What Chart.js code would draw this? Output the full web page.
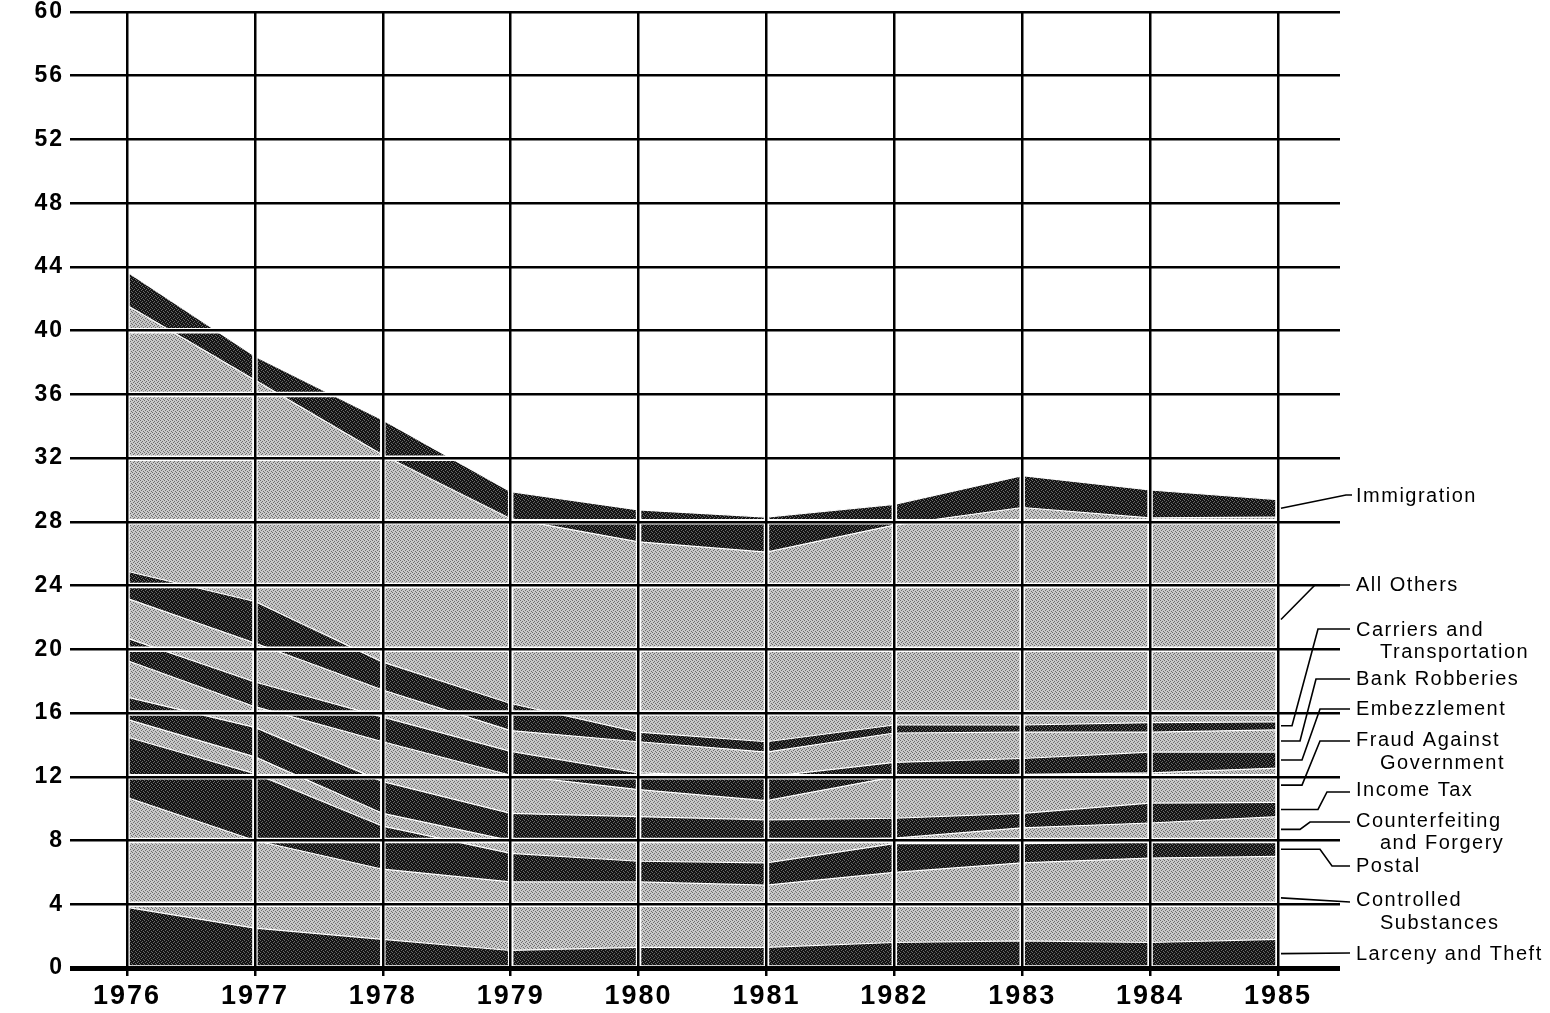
<!DOCTYPE html>
<html>
<head>
<meta charset="utf-8">
<script src="https://cdn.jsdelivr.net/npm/chart.js@4.4.0/dist/chart.umd.min.js"></script>
<style>
html, body { margin: 0; background: #fff; }
#wrap { width: 1550px; height: 1013px; }
</style>
</head>
<body>
<div id="wrap"><canvas id="chart"></canvas></div>
<script>
// stacked layers, bottom to top
const years = [1976, 1977, 1978, 1979, 1980, 1981, 1982, 1983, 1984, 1985]
const larceny        = [3.8, 2.5, 1.8, 1.1, 1.3, 1.3, 1.6, 1.7, 1.6, 1.8]
const controlled     = [6.9, 5.5, 4.4, 4.3, 4.1, 3.9, 4.4, 4.9, 5.3, 5.2]
const postal         = [3.8, 4.2, 2.7, 1.8, 1.3, 1.4, 1.8, 1.2, 1.0, 0.9]
const counterfeiting = [1.1, 1.05, 0.8, 0.8, 1.3, 1.4, 0.35, 1.0, 1.2, 1.6]
const incomeTax      = [1.4, 1.85, 2.0, 1.7, 1.5, 1.3, 1.25, 0.9, 1.25, 0.9]
const fraud          = [2.3, 1.3, 2.5, 2.4, 1.7, 1.2, 2.6, 2.45, 1.9, 2.15]
const embezzlement   = [1.4, 1.55, 1.55, 1.5, 1.05, 1.5, 0.9, 1.0, 1.3, 1.0]
const bankRobberies  = [2.5, 2.45, 1.7, 1.3, 1.95, 1.55, 1.85, 1.65, 1.25, 1.4]
const carriers       = [1.7, 2.6, 1.75, 1.7, 0.6, 0.65, 0.5, 0.45, 0.6, 0.5]
const allOthers      = [16.7, 13.9, 13.0, 11.6, 11.95, 11.9, 12.55, 13.65, 12.85, 12.85]
const immigration    = [2.1, 1.5, 2.2, 1.7, 2.0, 2.2, 1.3, 2.0, 1.75, 1.1]

const yTicks = { min: 0, max: 60, step: 4 }

function makePattern(base, speck) {
    let c = document.createElement('canvas')
    c.width = 4
    c.height = 4
    let g = c.getContext('2d')
    g.fillStyle = base
    g.fillRect(0, 0, 4, 4)
    g.fillStyle = speck
    g.fillRect(0, 0, 1, 1)
    g.fillRect(2, 1, 1, 1)
    g.fillRect(1, 2, 1, 1)
    g.fillRect(3, 3, 1, 1)
    return g.createPattern(c, 'repeat')
}
const darkFill = makePattern('#141414', '#6a6a6a')
const lightFill = makePattern('#c8c8c8', '#6c6c6c')

// name, values, shade, label text lines, label layout (text y, bend points)
const layers = [
    { name: 'Larceny and Theft', values: larceny, dark: true,
      text: ['Larceny and Theft'], ty: [954], bends: [[1350, 953]] },
    { name: 'Controlled Substances', values: controlled, dark: false,
      text: ['Controlled', 'Substances'], ty: [900, 923], bends: [[1350, 902]] },
    { name: 'Postal', values: postal, dark: true,
      text: ['Postal'], ty: [866], bends: [[1320, null], [1332, 866], [1350, 866]] },
    { name: 'Counterfeiting and Forgery', values: counterfeiting, dark: false,
      text: ['Counterfeiting', 'and Forgery'], ty: [821, 843], bends: [[1300, null], [1310, 822], [1350, 822]] },
    { name: 'Income Tax', values: incomeTax, dark: true,
      text: ['Income Tax'], ty: [790], bends: [[1318, null], [1327, 792], [1350, 792]] },
    { name: 'Fraud Against Government', values: fraud, dark: false,
      text: ['Fraud Against', 'Government'], ty: [740, 763], bends: [[1302, null], [1320, 741], [1350, 741]] },
    { name: 'Embezzlement', values: embezzlement, dark: true,
      text: ['Embezzlement'], ty: [709], bends: [[1302, null], [1320, 709], [1350, 709]] },
    { name: 'Bank Robberies', values: bankRobberies, dark: false,
      text: ['Bank Robberies'], ty: [679], bends: [[1300, null], [1316, 679], [1350, 679]] },
    { name: 'Carriers and Transportation', values: carriers, dark: true,
      text: ['Carriers and', 'Transportation'], ty: [630, 652], bends: [[1292, null], [1318, 629], [1350, 629]] },
    { name: 'All Others', values: allOthers, dark: false,
      text: ['All Others'], ty: [585], bends: [[1315, 585], [1350, 585]] },
    { name: 'Immigration', values: immigration, dark: true,
      text: ['Immigration'], ty: [496], bends: [[1346, 495], [1352, 495]] }
]

const datasets = layers.map((l, i) => ({
    label: l.name,
    data: years.map((yr, j) => ({ x: yr, y: l.values[j] })),
    backgroundColor: l.dark ? darkFill : lightFill,
    borderColor: '#ffffff',
    borderWidth: 1.2,
    pointRadius: 0,
    tension: 0,
    fill: i === 0 ? 'origin' : '-1'
}))

// white margin round the grid lines, drawn over the bands
const gridHalo = {
    id: 'gridHalo',
    afterDatasetsDraw(chart) {
        let { ctx, chartArea: a, scales: { x, y } } = chart
        ctx.save()
        ctx.strokeStyle = '#ffffff'
        ctx.lineWidth = 5.5
        ctx.beginPath()
        y.ticks.forEach(t => {
            let py = y.getPixelForValue(t.value)
            ctx.moveTo(a.left, py)
            ctx.lineTo(a.right, py)
        })
        x.ticks.forEach(t => {
            let px = x.getPixelForValue(t.value)
            ctx.moveTo(px, a.top)
            ctx.lineTo(px, a.bottom)
        })
        ctx.stroke()
        ctx.restore()
    }
}

const spacing = {
    id: 'spacing',
    beforeDraw(chart) {
        chart.ctx.letterSpacing = '2px'
    }
}

// labels on the right with leader lines to the 1985 column
const sideLabels = {
    id: 'sideLabels',
    afterDraw(chart) {
        let { ctx, scales: { x, y } } = chart
        let last = years.length - 1
        let px = x.getPixelForValue(years[last]) + 3
        ctx.save()
        ctx.letterSpacing = '1.5px'
        ctx.strokeStyle = '#000'
        ctx.lineWidth = 1.6
        ctx.fillStyle = '#000'
        ctx.font = '20px "Liberation Sans", Arial, sans-serif'
        ctx.textBaseline = 'middle'
        let base = 0
        layers.forEach(l => {
            let top = base + l.values[last]
            let ay = y.getPixelForValue((base + top) / 2)
            base = top
            ctx.beginPath()
            ctx.moveTo(px, ay)
            l.bends.forEach(b => ctx.lineTo(b[0], b[1] === null ? ay : b[1]))
            ctx.stroke()
            l.text.forEach((t, k) => ctx.fillText(t, k === 0 ? 1356 : 1380, l.ty[k]))
        })
        ctx.restore()
    }
}

new Chart(document.getElementById('chart'), {
    type: 'line',
    data: { datasets: datasets },
    options: {
        responsive: true,
        maintainAspectRatio: false,
        animation: false,
        layout: { padding: { top: 0, right: 210, left: 0, bottom: 0 } },
        plugins: { legend: { display: false }, tooltip: { enabled: false } },
        scales: {
            x: {
                type: 'linear',
                min: 1975.554,
                max: 1985.485,
                z: 1,
                afterFit: s => { s.height = 45 },
                ticks: {
                    stepSize: 1,
                    includeBounds: false,
                    color: '#000',
                    padding: 4,
                    font: { family: '"Liberation Sans", Arial, sans-serif', size: 27, weight: 'bold' },
                    callback: v => String(v)
                },
                grid: { color: '#000', lineWidth: 2.5, tickLength: 8, z: 1 },
                border: { display: false }
            },
            y: {
                stacked: true,
                min: yTicks.min,
                max: yTicks.max,
                z: 1,
                afterFit: s => { s.width = 70; s.paddingTop = 12; s.paddingBottom = 0 },
                ticks: {
                    stepSize: yTicks.step,
                    color: '#000',
                    padding: 6,
                    font: { family: '"Liberation Sans", Arial, sans-serif', size: 23, weight: 'bold' }
                },
                grid: {
                    color: '#000',
                    lineWidth: c => c.tick && c.tick.value === 0 ? 5 : 2.5,
                    drawTicks: false,
                    z: 1
                },
                border: { display: false }
            }
        }
    },
    plugins: [gridHalo, spacing, sideLabels]
})
</script>
</body>
</html>
